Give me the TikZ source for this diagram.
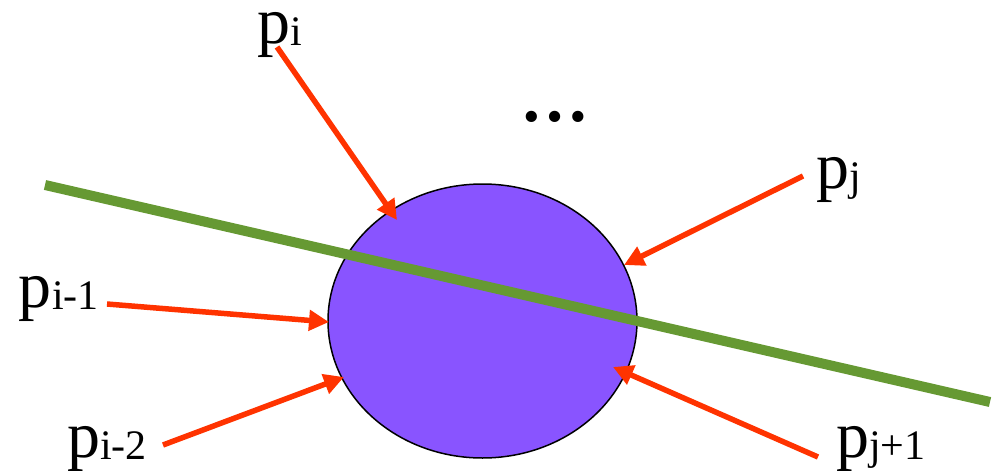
\documentclass[tikz,border=0pt]{standalone}
\usepackage{fontspec}
\setmainfont{Liberation Serif}
\usetikzlibrary{shapes.geometric,arrows.meta}
\definecolor{blobfill}{RGB}{137,84,255}
\definecolor{linegreen}{RGB}{102,153,51}
\definecolor{arrowred}{RGB}{255,51,0}
\newcommand{\plabel}[1]{{\fontsize{66}{66}\selectfont p}\raisebox{-2.5pt}{\fontsize{42}{42}\selectfont #1}}
\tikzset{
  blob/.style={ellipse, draw=black, line width=1.5pt, fill=blobfill, inner sep=0pt, minimum width=309pt, minimum height=274pt},
  cutline/.style={draw=linegreen, line width=10pt},
  ray/.style={draw=arrowred, line width=5.5pt, -{Triangle[length=20pt,width=20pt]}},
  lab/.style={anchor=base west, inner sep=0pt, outer sep=0pt}
}
\begin{document}
\begin{tikzpicture}[x=1pt,y=-1pt]
\useasboundingbox (0,0) rectangle (999,471);
\node[blob] (e) at (482.5,321) {};
\coordinate (gl) at (45,185);
\coordinate (gr) at (990,402);
\draw[cutline] (gl) -- (gr);
% labels
\node[lab] (pi) at (257,43) {\plabel{i}};
\node[lab] (pim1) at (19,307) {\plabel{i-1}};
\node[lab] (pim2) at (67,457) {\plabel{i-2}};
\node[lab] (pj) at (816,188) {\plabel{j}};
\node[lab] (pjp1) at (836,457) {\plabel{j+1}};
\node[anchor=base, inner sep=0pt] (dots) at (555,121) {\fontsize{69}{69}\selectfont\bfseries …};
% arrow endpoints
\coordinate (si) at (277,47);   \coordinate (ti) at (397,220);
\coordinate (sim1) at (107,304); \coordinate (tim1) at (329,322);
\coordinate (sim2) at (163,445); \coordinate (tim2) at (344,377);
\coordinate (sj) at (803,176);  \coordinate (tj) at (624,265);
\coordinate (sjp1) at (818,457); \coordinate (tjp1) at (613,367);
\draw[ray] (si) -- (ti);
\draw[ray] (sim1) -- (tim1);
\draw[ray] (sim2) -- (tim2);
\draw[ray] (sj) -- (tj);
\draw[ray] (sjp1) -- (tjp1);
\end{tikzpicture}
\end{document}
